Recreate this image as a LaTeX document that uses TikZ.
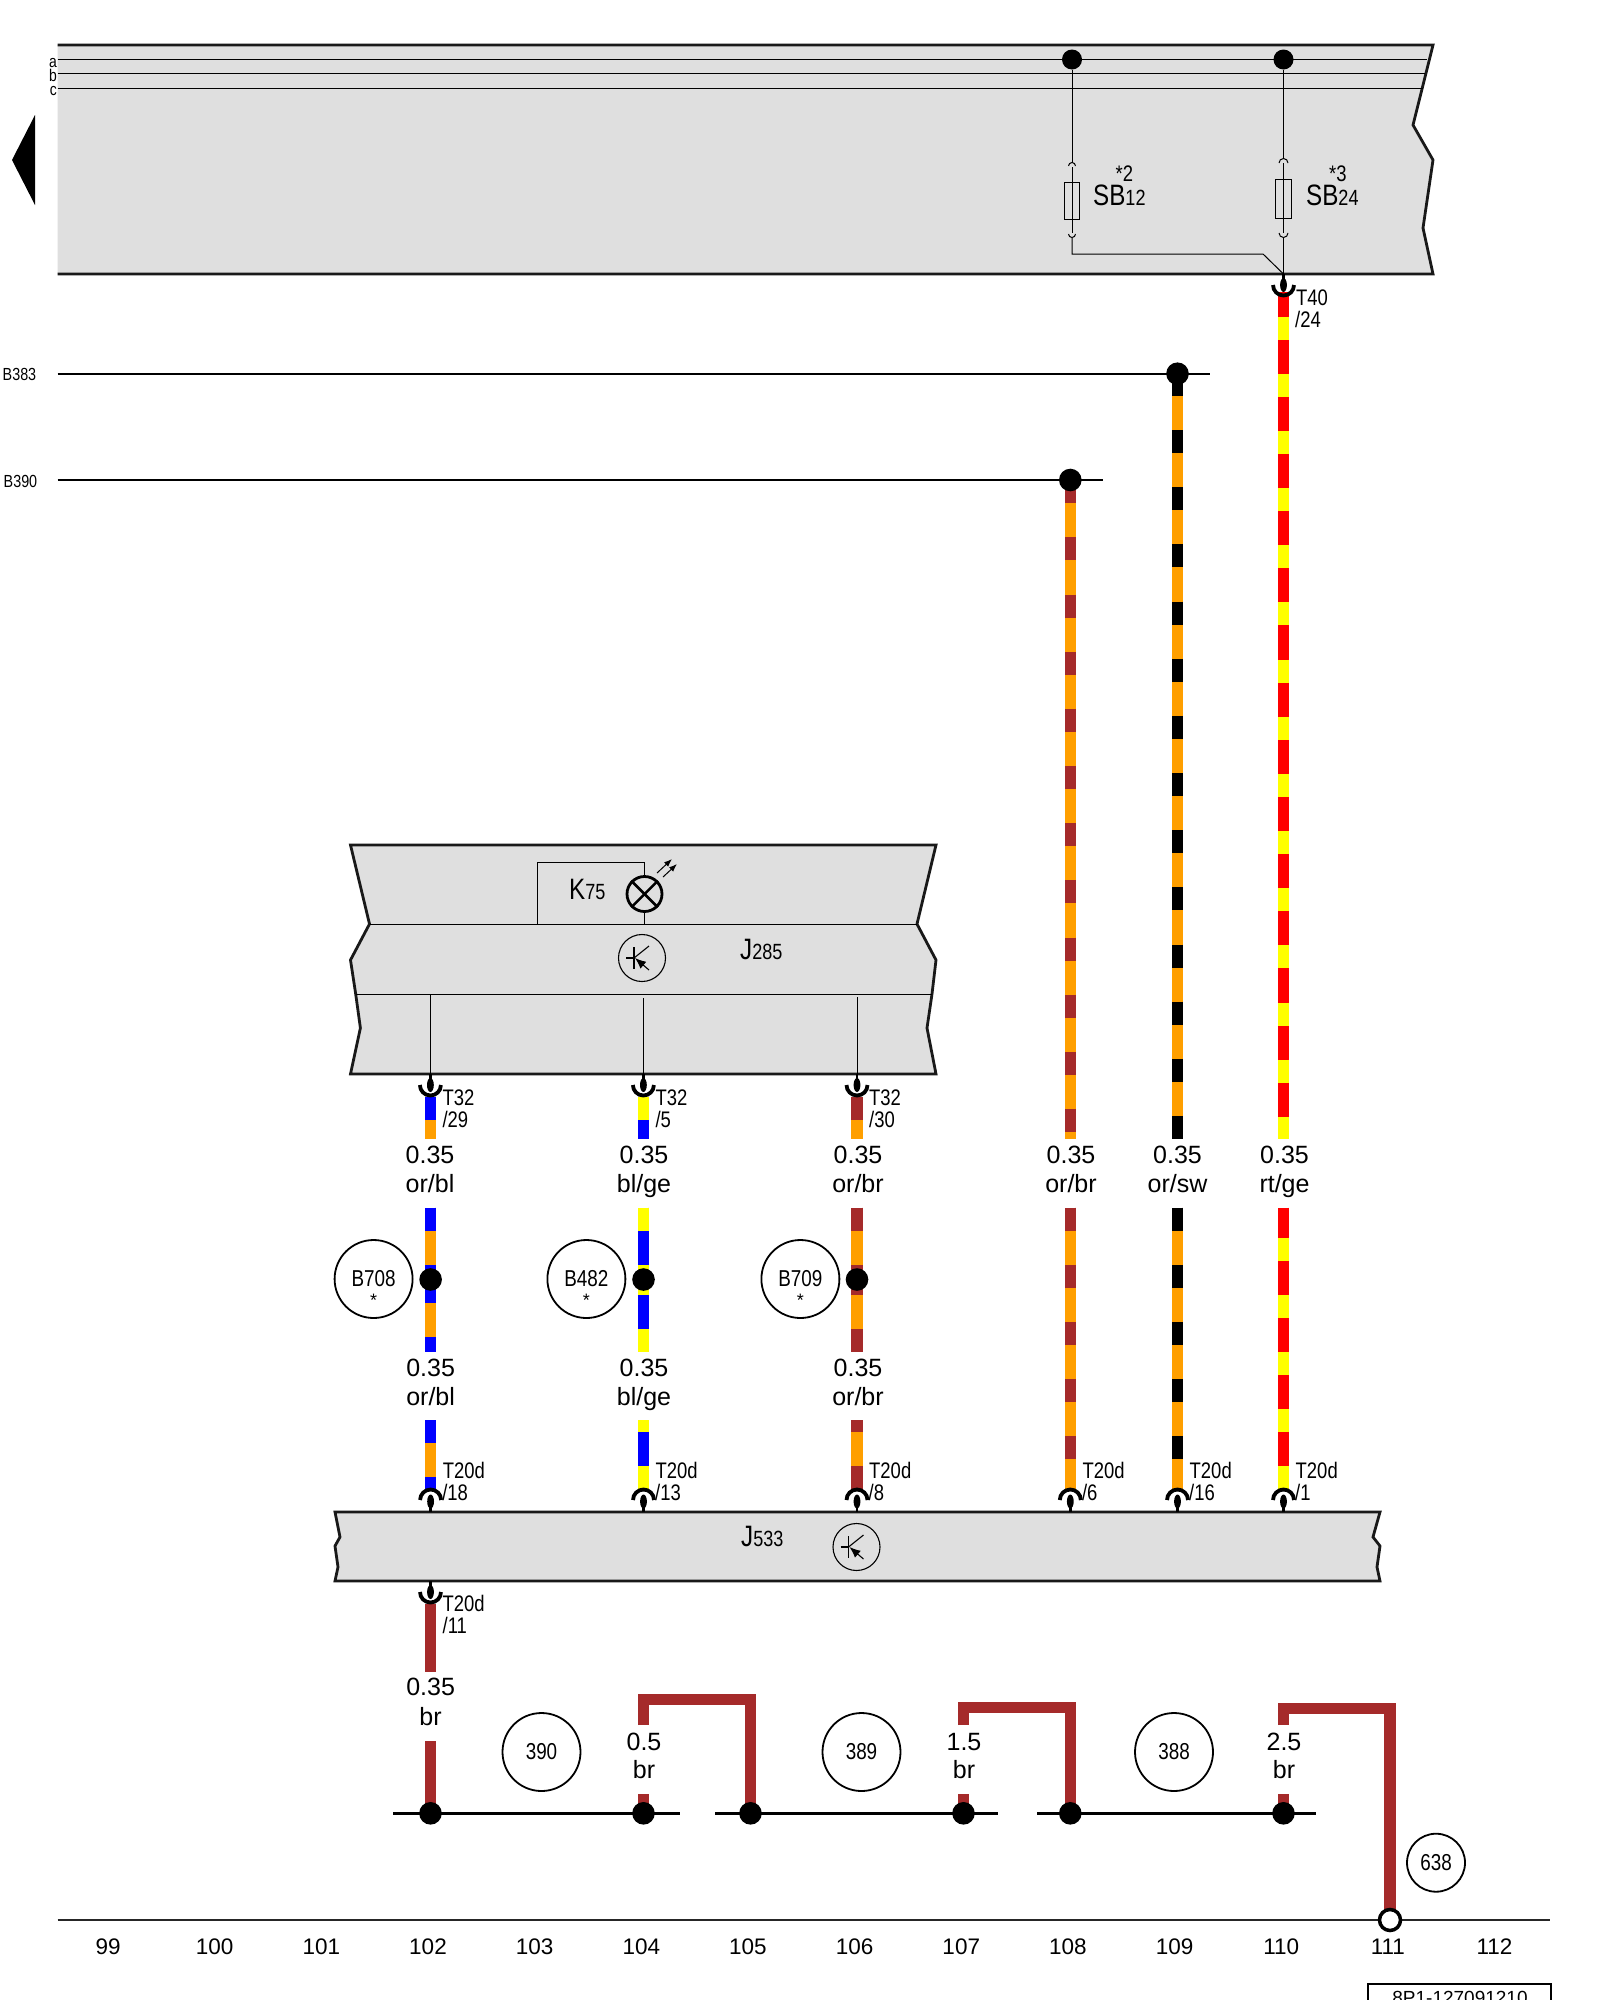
\documentclass[tikz,border=0pt]{standalone}
\usepackage{fontspec}
\setmainfont{Liberation Sans}
\newfontfamily\condf[FakeStretch=0.82]{Liberation Sans}
\usetikzlibrary{arrows.meta}
\definecolor{boxgrey}{HTML}{DFDFDF}
\definecolor{orw}{HTML}{FF9F00}
\definecolor{brw}{HTML}{A52A2A}
\definecolor{blw}{HTML}{0000FF}
\definecolor{gew}{HTML}{FFFF00}
\definecolor{rtw}{HTML}{FF0000}
\newcommand{\fsz}[1]{\fontsize{#1pt}{#1pt}\selectfont}
\tikzset{
  boxline/.style={draw=black!90,line width=2.8pt,line join=miter},
  thinl/.style={draw=black,line width=1pt},
  wire/.style={line width=11.5pt,line cap=butt},
  busl/.style={draw=black,line width=3pt},
  dot/.style={circle,fill=black,minimum size=22.6pt,inner sep=0pt},
  ring/.style={circle,draw=black,line width=1.8pt,minimum size=78pt,inner sep=0pt,font=\condf\fsz{23}},
  bt/.style={inner sep=0pt,anchor=base west,font=\condf\fsz{22.5}},
  wt/.style={inner sep=0pt,anchor=base,font=\fsz{25}},
  numt/.style={inner sep=0pt,anchor=base,font=\fsz{22.5}},
  star/.style={inner sep=0pt,anchor=center,font=\fsz{18}},
}
% name, x, y0, y1, base colour, stripe colour, start of a stripe
\newcommand{\stripewire}[7]{%
  \coordinate (#1a) at (#2,#3);
  \coordinate (#1b) at (#2,#4);
  \draw[wire,#5] (#1a) -- (#1b);
  \pgfmathsetmacro{\wph}{mod(#3-#7+1143,57.15)}
  \draw[wire,#6,dash pattern=on 23pt off 34.15pt,dash phase=\wph pt] (#1a) -- (#1b);
}
% connector below a box: x, y of the box edge
\newcommand{\cupdown}[2]{%
  \draw[line width=2.5pt] (#1,#2) -- (#1,{#2+8});
  \fill (#1,{#2+11}) ellipse [x radius=3.4pt,y radius=7pt];
  \draw[line width=3.8pt] ({#1-10.5},{#2+11}) arc [start angle=180,end angle=360,radius=10.5pt];
}
% connector above a box
\newcommand{\cupup}[2]{%
  \draw[line width=2.5pt] (#1,#2) -- (#1,{#2-8});
  \fill (#1,{#2-10.5}) ellipse [x radius=3.4pt,y radius=7pt];
  \draw[line width=3.8pt] ({#1-10.5},{#2-12}) arc [start angle=180,end angle=0,radius=10.5pt];
}
\newcommand{\transistor}[3]{%
  \node[circle,draw=black,line width=1.1pt,minimum size=47pt,inner sep=0pt] (#1) at (#2,#3) {};
  \draw[line width=1.1pt] ({#2-8},{#3-11}) -- ({#2-8},{#3+11});
  \draw[line width=1.1pt] ({#2-16},#3) -- ({#2-8},#3);
  \draw[line width=1.1pt] ({#2-8},#3) -- ({#2+7},{#3-12});
  \draw[line width=1.1pt,-{Latex[length=11pt,width=9pt]}] ({#2+7},{#3+12}) -- ({#2-7},{#3});
}
\newcommand{\partl}[2]{{\fsz{29.5}#1}{\fsz{22}#2}}
\begin{document}
\begin{tikzpicture}[x=1pt,y=-1pt]
\clip (0,0) rectangle (1600,2000);
\useasboundingbox (0,0) rectangle (1600,2000);
\fill[white] (0,0) rectangle (1600,2000);

% ---- top box
\fill[boxgrey] (57.5,45) -- (1433,45) -- (1413,125) -- (1433,160) -- (1423,228) -- (1433,274) -- (57.5,274) -- cycle;
\draw[boxline] (57.5,45) -- (1433,45) -- (1413,125) -- (1433,160) -- (1423,228) -- (1433,274) -- (57.5,274);
\foreach \yy/\xe/\lab/\ly in {59.5/1427/a/67,73/1425/b/81,88/1423/c/95}{
  \draw[thinl] (57.5,\yy) -- (\xe,\yy);
  \node[inner sep=0pt,anchor=base east,font=\condf\fsz{17}] (lab\lab) at (57,\ly) {\lab};
}
\fill (35,115) -- (12,160) -- (35,205) -- cycle;

% fuses
\node[dot,minimum size=20pt] (da) at (1072,59.5) {};
\node[dot,minimum size=20pt] (db) at (1283.5,59.5) {};
\node[draw=black,line width=1pt,minimum width=15pt,minimum height=37pt,inner sep=0pt] (fa) at (1072,200.5) {};
\node[draw=black,line width=1pt,minimum width=16.5pt,minimum height=39pt,inner sep=0pt] (fb) at (1283.5,198.5) {};
\coordinate (pin) at (1283.5,274);
\coordinate (kn) at (1263,254);
\coordinate (fa1) at (1072,162.5); \coordinate (fa2) at (1072,167);
\coordinate (fa3) at (1072,233);   \coordinate (fa4) at (1072,237.5);
\coordinate (fb1) at (1283.5,158.5); \coordinate (fb2) at (1283.5,163);
\coordinate (fb3) at (1283.5,233);   \coordinate (fb4) at (1283.5,237.5);
\draw[thinl] (da) -- (fa1);
\draw[thinl] (fa2) -- (fa3);
\draw[thinl] (fa4) -- (1072,254) -- (kn) -- (pin);
\draw[thinl] (db) -- (fb1);
\draw[thinl] (fb2) -- (fb3);
\draw[thinl] (fb4) -- (pin);
\draw[line width=1pt] (1068.5,166) arc [start angle=180,end angle=0,radius=3.5pt];
\draw[line width=1pt] (1068.5,234) arc [start angle=180,end angle=360,radius=3.5pt];
\draw[line width=1pt] (1279,163) arc [start angle=180,end angle=0,radius=4.5pt];
\draw[line width=1pt] (1279,233) arc [start angle=180,end angle=360,radius=4.5pt];
\node[bt] (sb12) at (1093,205) {\partl{SB}{12}};
\node[bt] (sb24) at (1306,205) {\partl{SB}{24}};
\node[bt] (s2) at (1115.5,181.5) {*2};
\node[bt] (s3) at (1329,181.5) {*3};

% ---- B383 / B390 lines
\node[inner sep=0pt,anchor=base west,font=\condf\fsz{17.5}] (b383) at (2.5,380) {B383};
\node[inner sep=0pt,anchor=base west,font=\condf\fsz{17.5}] (b390) at (3.5,487) {B390};
\coordinate (l1a) at (57.5,373.5); \coordinate (l1b) at (1210,373.5);
\coordinate (l2a) at (57.5,480.3); \coordinate (l2b) at (1103,480.3);
\draw[line width=2pt] (l1a) -- (l1b);
\draw[line width=2pt] (l2a) -- (l2b);

% ---- long wires
\stripewire{u8}{1070.3}{480}{1139.3}{orw}{brw}{480.3}
\stripewire{u9}{1177.5}{373.7}{1139.3}{orw}{black}{373}
\stripewire{u0}{1283.5}{292}{1139.3}{rtw}{gew}{316.7}
\stripewire{m8}{1070.3}{1207.7}{1489}{orw}{brw}{1207.7}
\stripewire{m9}{1177.5}{1207.7}{1489}{orw}{black}{1207.7}
\stripewire{m0}{1283.5}{1207.7}{1489}{rtw}{gew}{1237.7}
\node[dot] (d9) at (1177.5,373.7) {};
\node[dot] (d8) at (1070.3,480) {};
\cupdown{1283.5}{274}
\node[bt] (t40) at (1296,305) {T40};
\node[bt] (t40b) at (1295,327.7) {/24};

% ---- J285
\fill[boxgrey] (350.5,845) -- (936,845) -- (917,924) -- (936,960) -- (932,994) -- (927,1028) -- (936,1074) -- (350.5,1074) -- (360.4,1028) -- (355.7,994) -- (350.5,960) -- (369.5,924) -- cycle;
\draw[boxline] (350.5,845) -- (936,845) -- (917,924) -- (936,960) -- (932,994) -- (927,1028) -- (936,1074) -- (350.5,1074) -- (360.4,1028) -- (355.7,994) -- (350.5,960) -- (369.5,924) -- cycle;
\draw[thinl] (369.5,924) -- (917,924);
\draw[thinl] (355.7,994) -- (932,994);
\node[circle,draw=black,line width=2.8pt,minimum size=35pt,inner sep=0pt] (lamp) at (644.5,894) {};
\coordinate (ka) at (537.5,924); \coordinate (kb) at (644.5,924);
\draw[thinl] (ka) -- (537.5,862) -- (644.5,862) -- (lamp);
\draw[thinl] (lamp) -- (kb);
\draw[line width=2.5pt] (lamp.north west) -- (lamp.south east);
\draw[line width=2.5pt] (lamp.north east) -- (lamp.south west);
\draw[line width=1pt,-{Latex[length=8pt,width=6pt]}] (657,873) -- (672,859);
\draw[line width=1pt,-{Latex[length=8pt,width=6pt]}] (663,877) -- (677,864);
\node[bt] (k75) at (569,899) {\partl{K}{75}};
\transistor{tr1}{642}{958}
\node[bt] (j285) at (740,959.3) {\partl{J}{285}};
\draw[thinl] (430.4,994) -- (430.4,1074);
\draw[thinl] (643.4,998) -- (643.4,1074);
\draw[thinl] (857,997) -- (857,1074);

% ---- T32 stubs
\stripewire{a1}{430.4}{1097}{1139.3}{orw}{blw}{1097}
\stripewire{a2}{643.4}{1097}{1139.3}{blw}{gew}{1097}
\stripewire{a3}{857}{1097}{1139.3}{orw}{brw}{1097}
\foreach \xx/\pp/\k in {430.4/29/a,643.4/5/b,857/30/c}{
  \cupdown{\xx}{1074}
  \node[bt] (t32\k) at ({\xx+12},1105) {T32};
  \node[bt] (t32p\k) at ({\xx+12},1127.7) {/\pp};
}

% ---- branch wires with splice dots
\stripewire{b1}{430.6}{1207.7}{1280}{orw}{blw}{1207.7}
\stripewire{c1}{430.6}{1280}{1352}{orw}{blw}{1280}
\stripewire{b2}{643.5}{1207.7}{1272}{blw}{gew}{1207.7}
\stripewire{c2}{643.5}{1272}{1352}{blw}{gew}{1272}
\stripewire{b3}{857}{1207.7}{1272}{orw}{brw}{1207.7}
\stripewire{c3}{857}{1272}{1352}{orw}{brw}{1272}
\node[dot] (s1) at (430.6,1279.5) {};
\node[dot] (s2d) at (643.5,1279.5) {};
\node[dot] (s3d) at (857,1279.5) {};
\foreach \xx/\tt/\k in {373.6/B708/a,586.4/B482/b,800.4/B709/c}{
  \node[ring] (r\k) at (\xx,1279) {};
  \node[inner sep=0pt,font=\condf\fsz{23}] (rt\k) at (\xx,1279) {\tt};
  \node[star] (rs\k) at (\xx,1300) {*};
}

% ---- stubs above J533
\stripewire{e1}{430.6}{1420}{1489}{orw}{blw}{1420}
\stripewire{e2}{643.5}{1420}{1489}{blw}{gew}{1409}
\stripewire{e3}{857}{1420}{1489}{orw}{brw}{1409}

% ---- J533
\fill[boxgrey] (335,1512) -- (1380,1512) -- (1373,1537) -- (1380,1546) -- (1377,1567) -- (1380,1581) -- (335,1581) -- (338,1567) -- (335,1546) -- (340,1537) -- cycle;
\draw[boxline] (335,1512) -- (1380,1512) -- (1373,1537) -- (1380,1546) -- (1377,1567) -- (1380,1581) -- (335,1581) -- (338,1567) -- (335,1546) -- (340,1537) -- cycle;
\node[bt] (j533) at (741,1546) {\partl{J}{533}};
\transistor{tr2}{856.5}{1547}
\foreach \xx/\pp/\k in {430.6/18/a,643.5/13/b,857/8/c,1070.3/6/d,1177.5/16/e,1283.5/1/f}{
  \cupup{\xx}{1512}
  \node[bt] (t20\k) at ({\xx+12},1478) {T20d};
  \node[bt] (t20p\k) at ({\xx+11.5},1500.7) {/\pp};
}

% ---- wire sizes and colours
\foreach \xx/\cc/\k in {430/or\slash bl/a,644/bl\slash ge/b,858/or\slash br/c,1071/or\slash br/d,1177.5/or\slash sw/e,1284.5/rt\slash ge/f}{
  \node[wt] (sz\k) at (\xx,1163) {0.35};
  \node[wt] (co\k) at (\xx,1192) {\cc};
}
\foreach \xx/\cc/\k in {430.6/or\slash bl/a,644/bl\slash ge/b,858/or\slash br/c}{
  \node[wt] (sy\k) at (\xx,1376) {0.35};
  \node[wt] (cy\k) at (\xx,1405) {\cc};
}

% ---- below J533
\stripewire{f1}{430.5}{1604}{1672}{brw}{brw}{1604}
\cupdown{430.5}{1581}
\node[bt] (t20g) at (442.5,1611) {T20d};
\node[bt] (t20pg) at (442.5,1633) {/11};
\node[wt] (szg) at (430.6,1695) {0.35};
\node[wt] (cog) at (430.6,1725) {br};

\coordinate (g1) at (430.5,1741);
\coordinate (ba1) at (393,1813.3); \coordinate (ba2) at (680,1813.3);
\coordinate (bb1) at (715,1813.3); \coordinate (bb2) at (997.5,1813.3);
\coordinate (bc1) at (1037,1813.3); \coordinate (bc2) at (1316,1813.3);
\draw[busl] (ba1) -- (ba2);
\draw[busl] (bb1) -- (bb2);
\draw[busl] (bc1) -- (bc2);
\draw[wire,brw] (g1) -- (430.5,1813.3);
\draw[wire,brw] (643.5,1725) -- (643.5,1699.5) -- (750.5,1699.5) -- (750.5,1813.3);
\draw[wire,brw] (643.5,1794) -- (643.5,1813.3);
\draw[wire,brw] (963.5,1725) -- (963.5,1707.5) -- (1070.3,1707.5) -- (1070.3,1813.3);
\draw[wire,brw] (963.5,1794) -- (963.5,1813.3);
\draw[wire,brw] (1283.5,1725) -- (1283.5,1708.5) -- (1390,1708.5) -- (1390,1920);
\draw[wire,brw] (1283.5,1794) -- (1283.5,1813.3);
\foreach \xx/\k in {430.5/a,643.5/b,750.5/c,963.5/d,1070.3/e,1283.5/f}{
  \node[dot] (g\k) at (\xx,1813.3) {};
}
\node[wt] (s05) at (644,1750) {0.5};
\node[wt] (c05) at (644,1778) {br};
\node[wt] (s15) at (964,1750) {1.5};
\node[wt] (c15) at (964,1778) {br};
\node[wt] (s25) at (1284,1750) {2.5};
\node[wt] (c25) at (1284,1778) {br};
\node[ring] (r390) at (541.5,1752) {390};
\node[ring] (r389) at (861.5,1752) {389};
\node[ring] (r388) at (1174,1752) {388};
\node[ring,minimum size=58pt] (r638) at (1436,1862.7) {638};

% ---- bottom rule and grid numbers
\coordinate (ra) at (57.5,1920); \coordinate (rb) at (1550,1920);
\draw[line width=2pt,draw=black!85] (ra) -- (rb);
\node[circle,draw=black,fill=white,line width=3.5pt,minimum size=21pt,inner sep=0pt] (gnd) at (1390,1920) {};
\foreach \n [evaluate=\n as \xx using 428+(\n-102)*106.65] in {99,100,...,112}{
  \node[numt] (grid\n) at (\xx,1954) {\n};
}

% ---- reference box
\draw[line width=2pt] (1368,2005) -- (1368,1984) -- (1551,1984) -- (1551,2005);
\node[inner sep=0pt,anchor=base,font=\fsz{19}] (ref) at (1460,2004) {8P1-127091210};
\end{tikzpicture}
\end{document}
